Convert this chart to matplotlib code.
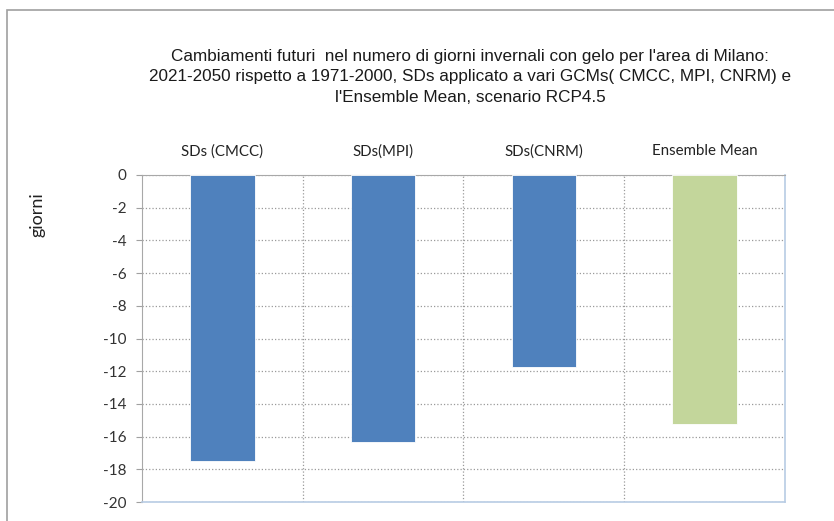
import matplotlib.pyplot as plt
from matplotlib.patches import Rectangle

categorie = ["SDs (CMCC)", "SDs(MPI)", "SDs(CNRM)", "Ensemble Mean"]
valori = [-17.5, -16.3, -11.75, -15.2]
colori = ["#4f81bd", "#4f81bd", "#4f81bd", "#c3d69b"]
yticks = list(range(0, -21, -2))

W, H = 834, 521
fig = plt.figure(figsize=(W / 100, H / 100), dpi=100)

# cornice esterna del grafico
fig.patches.append(Rectangle((7 / W, -0.1), 1.2, 1.1 - 10 / H, transform=fig.transFigure,
                             fill=False, edgecolor="#a0a0a0", linewidth=1.2))

ax = fig.add_axes([142 / W, 1 - 502 / H, (785 - 142) / W, (502 - 175) / H])
x = range(len(categorie))
ax.bar(x, valori, width=0.4, color=colori, edgecolor="white", linewidth=0.6, zorder=3)

ax.set_xlim(-0.5, len(categorie) - 0.5)
ax.set_ylim(-20, 0)
ax.set_yticks(yticks)
ax.set_yticklabels([str(v) for v in yticks], fontfamily="Lato", fontsize=11, color="#333333")

ax.xaxis.tick_top()
ax.set_xticks(list(x))
ax.set_xticklabels(categorie, fontfamily="Lato", fontsize=10.8, color="#222222")
ax.tick_params(axis="x", length=0, pad=12)
ax.tick_params(axis="y", length=4, color="#a0a0a0", pad=7, direction="out")

ax.set_xticks([i + 0.5 for i in range(len(categorie) - 1)], minor=True)
ax.grid(axis="y", which="major", linestyle=":", color="#9a9a9a", linewidth=0.9, zorder=0)
ax.grid(axis="x", which="minor", linestyle=":", color="#9a9a9a", linewidth=0.9, zorder=0)
ax.tick_params(axis="x", which="minor", length=0)

for lato in ["top", "left"]:
    ax.spines[lato].set_color("#a8a8a8")
for lato in ["bottom", "right"]:
    ax.spines[lato].set_color("#b8cce4")
    ax.spines[lato].set_linewidth(1.2)

fig.text(38 / W, 1 - 215 / H, "giorni", rotation=90, ha="center", va="center",
         fontfamily="Lato", fontsize=13, color="#222222")

titolo = ("Cambiamenti futuri  nel numero di giorni invernali con gelo per l'area di Milano:\n"
          "2021-2050 rispetto a 1971-2000, SDs applicato a vari GCMs( CMCC, MPI, CNRM) e\n"
          "l'Ensemble Mean, scenario RCP4.5")
fig.text(470 / W, 1 - 77 / H, titolo, ha="center", va="center", fontfamily="Liberation Sans",
         fontsize=12.3, color="#1a1a1a", linespacing=1.42)

fig.savefig("out.png", dpi=100)
